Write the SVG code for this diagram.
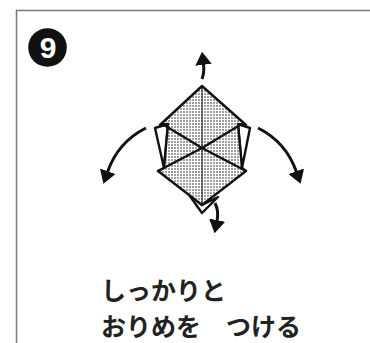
<svg xmlns="http://www.w3.org/2000/svg" width="370" height="343" viewBox="0 0 370 343">
  <defs>
    <pattern id="dots" width="3" height="3" patternUnits="userSpaceOnUse">
      <rect width="3" height="3" fill="#fff"/>
      <circle cx="1" cy="1" r="0.8" fill="#222"/>
    </pattern>
    <marker id="head" viewBox="0 0 8 10" refX="0.5" refY="5" markerWidth="4.4" markerHeight="5.5" orient="auto" markerUnits="strokeWidth">
      <path d="M0,0 L8,5 L0,10 z" fill="#111"/>
    </marker>
  </defs>
  <style>
    .frame { fill: none; stroke: #7a7a7a; stroke-width: 1.5; }
    .edge { stroke: #111; stroke-width: 2.4; stroke-linejoin: round; stroke-linecap: round; }
    .flap { fill: #fff; }
    .paper { fill: url(#dots); }
    .crease { stroke: #111; stroke-width: 1; fill: none; }
    .arrow { fill: none; stroke: #111; stroke-width: 3; }
    .label { font-family: "Noto Sans CJK JP", "Noto Sans", sans-serif; font-weight: bold; font-size: 25px; fill: #222; }
  </style>

  <rect class="frame" x="16.5" y="10.5" width="370" height="350"/>

  <!-- step number -->
  <g id="step-number">
    <circle cx="47.5" cy="47.5" r="19.3" fill="#111"/>
    <text x="48" y="57.5" text-anchor="middle" font-family="Liberation Sans, Arial, sans-serif" font-weight="bold" font-size="30" fill="#fff">9</text>
  </g>

  <!-- folded model -->
  <g id="model">
    <polygon class="flap edge" points="187,192 202,213 218,197 202,205"/>
    <polygon class="flap edge" points="155,128 168,124 164,168"/>
    <polygon class="flap edge" points="250,128 238,124 242,168"/>
    <polygon class="paper edge" points="202,86 160,125 168,124 164,168 158,171 202,205 246,171 242,168 238,124 246,125"/>
    <line class="crease" x1="202" y1="86" x2="202" y2="205"/>
    <polyline class="edge" fill="none" points="164,125 202,148 246,171"/>
    <polyline class="edge" fill="none" points="240,125 202,148 158,171"/>
  </g>

  <!-- fold arrows -->
  <g id="arrows">
    <path class="arrow" d="M202,79 Q204.5,72 203.5,64" marker-end="url(#head)"/>
    <path class="arrow" d="M215,203 Q219,211 217,221" marker-end="url(#head)"/>
    <path class="arrow" d="M146,128 Q118,142 107.5,172" marker-end="url(#head)"/>
    <path class="arrow" d="M258,128 Q286,142 296.5,172" marker-end="url(#head)"/>
  </g>

  <g id="caption">
    <text class="label" x="101" y="300">しっかりと</text>
    <text class="label" x="101" y="336">おりめを　つける</text>
  </g>
</svg>
